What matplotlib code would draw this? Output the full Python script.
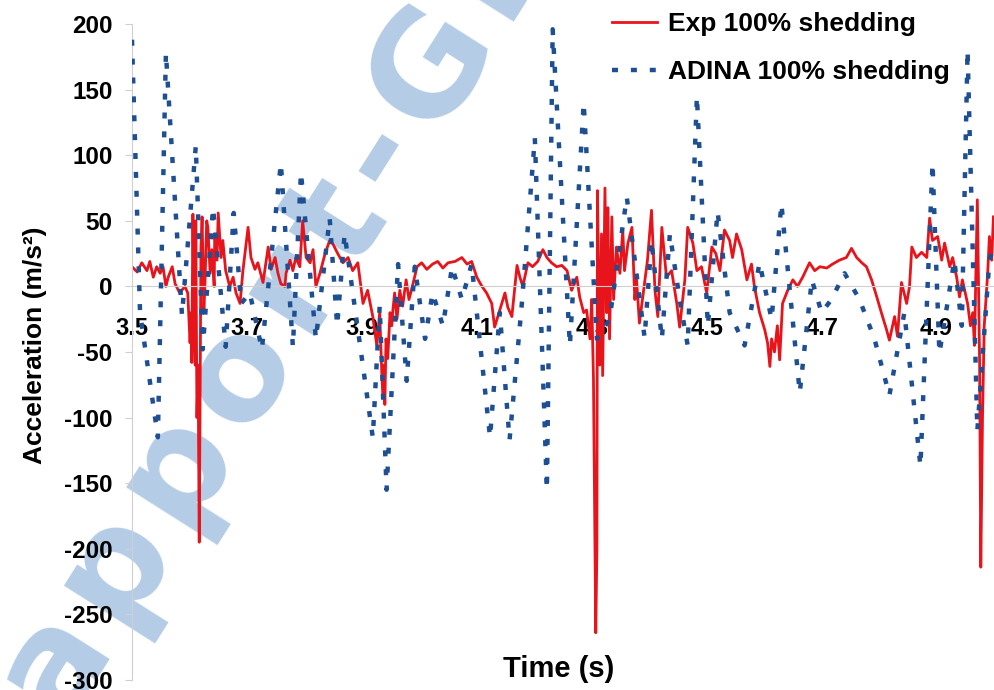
import matplotlib
matplotlib.use("Agg")
import matplotlib.pyplot as plt
import numpy as np
from matplotlib.textpath import TextToPath
from matplotlib.font_manager import FontProperties

# Measured acceleration, experiment (s, m/s^2)
exp_time = [
    3.500, 3.509, 3.517, 3.526, 3.531, 3.537, 3.543, 3.549, 3.554, 3.559,
    3.563, 3.570, 3.575, 3.583, 3.592, 3.597, 3.601, 3.603, 3.604, 3.606,
    3.608, 3.610, 3.611, 3.613, 3.615, 3.617, 3.618, 3.620, 3.622, 3.625,
    3.627, 3.630, 3.632, 3.636, 3.639, 3.643, 3.644, 3.648, 3.650, 3.655,
    3.658, 3.663, 3.670, 3.676, 3.681, 3.688, 3.693, 3.702, 3.707, 3.714,
    3.719, 3.728, 3.737, 3.742, 3.749, 3.754, 3.759, 3.766, 3.768, 3.775,
    3.780, 3.785, 3.792, 3.797, 3.803, 3.810, 3.815, 3.820, 3.827, 3.836,
    3.844, 3.850, 3.858, 3.867, 3.876, 3.884, 3.893, 3.902, 3.910, 3.919,
    3.926, 3.931, 3.935, 3.937, 3.938, 3.940, 3.942, 3.945, 3.949, 3.952,
    3.954, 3.957, 3.961, 3.966, 3.971, 3.977, 3.982, 3.989, 3.996, 4.004,
    4.013, 4.023, 4.032, 4.041, 4.050, 4.062, 4.074, 4.083, 4.091, 4.100,
    4.109, 4.117, 4.126, 4.131, 4.140, 4.149, 4.154, 4.161, 4.170, 4.175,
    4.180, 4.189, 4.197, 4.206, 4.215, 4.222, 4.230, 4.239, 4.248, 4.257,
    4.265, 4.274, 4.279, 4.286, 4.291, 4.297, 4.300, 4.303, 4.307, 4.309,
    4.310, 4.314, 4.317, 4.319, 4.323, 4.326, 4.328, 4.331, 4.335, 4.338,
    4.343, 4.349, 4.354, 4.357, 4.363, 4.370, 4.375, 4.378, 4.383, 4.392,
    4.397, 4.404, 4.410, 4.415, 4.422, 4.430, 4.439, 4.448, 4.453, 4.462,
    4.467, 4.476, 4.483, 4.491, 4.500, 4.509, 4.516, 4.523, 4.531, 4.540,
    4.545, 4.552, 4.561, 4.570, 4.578, 4.583, 4.592, 4.601, 4.606, 4.610,
    4.613, 4.618, 4.623, 4.627, 4.632, 4.641, 4.650, 4.658, 4.667, 4.679,
    4.688, 4.697, 4.709, 4.719, 4.731, 4.743, 4.752, 4.761, 4.770, 4.778,
    4.787, 4.796, 4.804, 4.813, 4.818, 4.827, 4.832, 4.839, 4.848, 4.853,
    4.857, 4.865, 4.874, 4.883, 4.888, 4.893, 4.902, 4.909, 4.914, 4.923,
    4.928, 4.935, 4.940, 4.945, 4.954, 4.959, 4.963, 4.966, 4.971, 4.975,
    4.977, 4.980, 4.983, 4.989, 4.992, 4.996, 4.999,
]
exp_accel = [
    15, 11, 18, 12, 19, 7, 15, 10, 15, 0,
    7, 15, 2, -5, 0, -5, -43, -20, -58, 55,
    -30, -60, 50, -100, -60, -195, -120, 30, 53, -20,
    3, 50, 45, 10, 28, 0, 40, 20, 56, 22,
    35, 12, 0, 7, -5, -13, 12, 45, 22, 13,
    18, 3, 30, 13, 22, 10, 2, 0, 10, 20,
    12, 22, 15, 50, 22, 18, 28, 0, 10, 25,
    35, 32, 25, 18, 22, 12, 18, -13, -3, -23,
    -45, -20, -70, -84, -60, -90, -40, -55, -20, -30,
    -18, -5, -25, -3, -15, 5, -10, 2, 15, 18,
    13, 17, 19, 14, 18, 19, 22, 17, 19, 7,
    0, -5, -13, -31, -18, -5, -16, -23, 16, 7,
    0, 18, 15, 19, 28, 22, 18, 15, 16, 12,
    -3, 7, -8, -20, -18, -40, -10, -70, -264, -200,
    73, -60, 40, -68, 75, -20, 60, -40, 53, -10,
    30, 10, 43, 12, 33, 45, -10, 5, -28, 3,
    20, 58, -3, -23, 45, 7, 12, -13, -31, 5,
    45, 33, 12, 15, -5, 30, 25, 12, 43, 35,
    22, 40, 28, 5, 17, 0, -20, -33, -43, -61,
    -40, -50, -30, -56, -13, -3, 5, 0, 7, 18,
    12, 15, 14, 17, 20, 22, 29, 22, 18, 15,
    5, -8, -20, -33, -41, -23, -38, 3, -13, 0,
    30, 22, 26, 22, 52, 35, 38, 20, 33, 15,
    22, 7, -8, 5, -13, -30, -20, -45, 66, -60,
    -214, -100, -30, 10, 38, 20, 53,
]

# Simulated acceleration, ADINA model (s, m/s^2)
adina_time = [
    3.500, 3.514, 3.545, 3.559, 3.587, 3.611, 3.623, 3.641, 3.663, 3.677,
    3.690, 3.705, 3.726, 3.759, 3.780, 3.794, 3.820, 3.844, 3.857, 3.870,
    3.919, 3.931, 3.943, 3.963, 3.978, 3.992, 4.010, 4.023, 4.041, 4.057,
    4.074, 4.091, 4.123, 4.140, 4.157, 4.178, 4.201, 4.222, 4.232, 4.262,
    4.286, 4.309, 4.331, 4.361, 4.392, 4.404, 4.422, 4.436, 4.453, 4.467,
    4.483, 4.502, 4.519, 4.540, 4.566, 4.592, 4.613, 4.630, 4.662, 4.683,
    4.700, 4.717, 4.740, 4.766, 4.792, 4.818, 4.844, 4.872, 4.893, 4.905,
    4.931, 4.944, 4.954, 4.971, 4.992, 4.999,
]
adina_accel = [
    188, -20, -115, 178, -22, 107, -48, 60, -46, 56,
    -13, -5, -48, 94, -46, 87, -40, 52, -30, 40,
    -115, -15, -155, 17, -72, 15, -40, -5, -30, 15,
    -10, 17, -115, -20, -117, -15, 113, -155, 196, -45,
    140, -40, -25, 68, -39, 35, -40, 40, -10, -45,
    145, -30, 57, -20, -45, 18, -25, 63, -81, 5,
    -20, -10, 10, -10, -40, -83, -20, -137, 94, -51,
    20, -30, 180, -110, 20, 30,
]

y_ticks = [-300, -250, -200, -150, -100, -50, 0, 50, 100, 150, 200]
x_ticks = [3.5, 3.7, 3.9, 4.1, 4.3, 4.5, 4.7, 4.9]
x_tick_labels = ["3.5", "3.7", "3.9", "4.1", "4.3", "4.5", "4.7", "4.9"]

plt.rcParams['font.family'] = ['Liberation Sans', 'DejaVu Sans']
plt.rcParams['axes.unicode_minus'] = False

W, H = 994, 690
fig = plt.figure(figsize=(W / 100, H / 100), dpi=100)
fig.patch.set_facecolor('white')

ax = fig.add_axes([132 / W, 10 / H, 862 / W, 656 / H])
ax.set_zorder(1)
ax.patch.set_alpha(0)

# --- diagonal, letter-spaced site watermark behind the plot ----------------
mark_chars = list('rapport-Gratuit')
mark_sep = '\u200a'
mark_text = mark_sep.join(mark_chars)
mark_font = FontProperties(family='DejaVu Sans', weight='bold', size=100)
_ttp = TextToPath()


def ink_width(s):
    """Ink width of s in pixels at 100 pt and 100 dpi."""
    return _ttp.get_text_width_height_descent(s, mark_font, ismath=False)[0] * 100 / 72


def glyph_centre(i, shift=0.0, rise=0.28):
    right = ink_width(mark_sep.join(mark_chars[:i + 1]))
    return right - ink_width(mark_chars[i]) / 2 + shift * em + 1j * rise * em


em = 100 * 100 / 72
# glyph centres in the text's own frame (p, p, o, G)
glyph_local = np.array([glyph_centre(2, 0.06), glyph_centre(3, 0.06),
                        glyph_centre(4), glyph_centre(8, rise=0.365)])
# where those glyph centres sit on the canvas (pixels, origin bottom-left)
glyph_canvas = np.array([113 + 1j * (H - 577), 190 + 1j * (H - 465),
                         250 + 1j * (H - 363), 421 + 1j * (H - 72)])
zl, zc = glyph_local - glyph_local.mean(), glyph_canvas - glyph_canvas.mean()
rot = np.sum(zc * np.conj(zl)) / np.sum(np.abs(zl) ** 2)
origin = glyph_canvas.mean() - rot * glyph_local.mean()

fig.text(origin.real / W, origin.imag / H, mark_text,
         rotation=np.degrees(np.angle(rot)), rotation_mode='anchor',
         ha='left', va='baseline', family='DejaVu Sans', fontweight='bold',
         fontsize=100 * np.abs(rot), color='#b4cce6', zorder=0)

# --- data -------------------------------------------------------------------
ax.plot(exp_time, exp_accel, color='#e8141c', lw=2.0, zorder=2,
        label='Exp 100% shedding')
ax.plot(adina_time, adina_accel, color='#1f4f93', lw=3.2,
        ls=(0, (1.35, 2.9)), zorder=3, label='ADINA 100% shedding')

ax.set_xlim(3.5, 5.0)
ax.set_ylim(-300, 200)

for side in ('top', 'right'):
    ax.spines[side].set_visible(False)
ax.spines['bottom'].set_position(('data', 0))
ax.spines['bottom'].set_color('#cfcfcf')
ax.spines['bottom'].set_linewidth(0.8)
ax.spines['left'].set_color('#d0d0d0')
ax.spines['left'].set_linewidth(0.8)

ax.set_yticks(y_ticks)
ax.set_xticks(x_ticks)
ax.set_xticklabels(x_tick_labels)
ax.tick_params(axis='x', length=0, pad=22, labelsize=17)
ax.tick_params(axis='y', length=5, width=0.8, color='#cfcfcf', pad=9,
               labelsize=17.5)
for lab in ax.get_xticklabels() + ax.get_yticklabels():
    lab.set_fontweight('bold')

ax.set_ylabel('Acceleration (m/s²)', fontsize=19, fontweight='bold')
ax.yaxis.set_label_coords(-0.099, 0.511)
ax.text(0.495, 0.017, 'Time (s)', transform=ax.transAxes, ha='center',
        va='center', fontsize=21, fontweight='bold')

ax.legend(loc='upper left', bbox_to_anchor=((612 - 132) / 862, (680 - 12) / 656),
          frameon=False, prop={'weight': 'bold', 'size': 19},
          handlelength=1.7, handletextpad=0.42, labelspacing=0.9,
          borderpad=0, borderaxespad=0)

fig.savefig('out.png', dpi=100)
